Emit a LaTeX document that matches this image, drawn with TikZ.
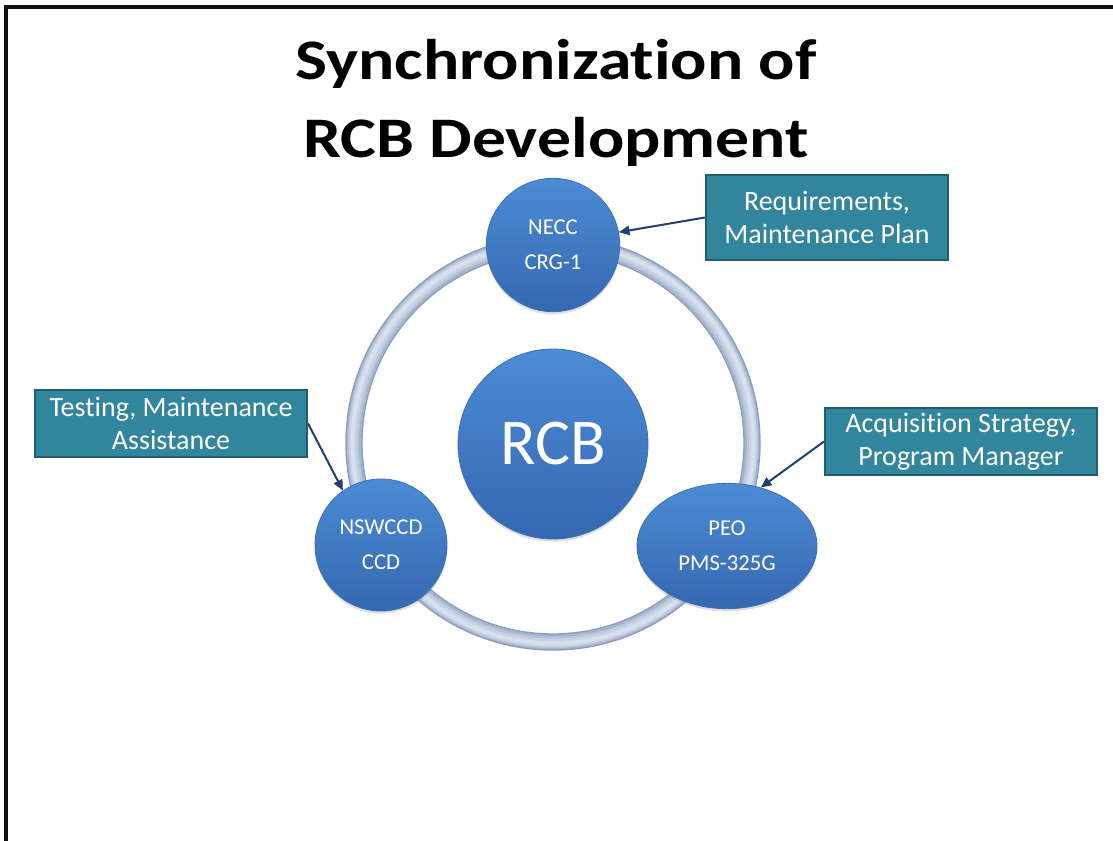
\documentclass[tikz,border=0pt]{standalone}
\usepackage{fontspec}
\setmainfont{Carlito}[Ligatures=CommonOff]
\usetikzlibrary{arrows.meta,shapes.geometric,shadows}
\definecolor{frameblack}{HTML}{111111}
\definecolor{ringdark}{HTML}{8A9DBE}
\definecolor{ringlight}{HTML}{D6E0EE}
\definecolor{bluetop}{HTML}{4D8BD5}
\definecolor{bluebot}{HTML}{3468B0}
\definecolor{blueedge}{HTML}{3A70B8}
\definecolor{boxteal}{HTML}{31859C}
\definecolor{tealedge}{HTML}{215E6E}
\definecolor{arrowblue}{HTML}{22406E}
\tikzset{
  bubble/.style={circle, inner sep=0pt, top color=bluetop, bottom color=bluebot,
    draw=blueedge, line width=0.6pt, text=white, align=center,
    font=\fontsize{17}{26}\selectfont,
    drop shadow={opacity=0.25, shadow xshift=0pt, shadow yshift=-2pt}},
  labelbox/.style={rectangle, inner sep=0pt, fill=boxteal, draw=tealedge,
    line width=1.5pt, text=white, align=center, font=\fontsize{21}{24.5}\selectfont},
  pointer/.style={draw=arrowblue, line width=1.5pt, -{Triangle[length=8pt,width=7pt]}},
  titletext/.style={anchor=base, font=\bfseries\fontsize{43}{50}\selectfont, text=black, inner sep=0pt},
  ringpart/.style={line width=#1},
}
\begin{document}
\begin{tikzpicture}[x=0.75pt,y=-0.75pt]
\useasboundingbox (0,0) rectangle (1113,841);
\fill[white] (0,0) rectangle (1113,841);
\coordinate (fa) at (1113,7);
\coordinate (fb) at (6,7);
\coordinate (fc) at (6,841);
\draw[frameblack, line width=2.5pt] (fa) -- (fb) -- (fc);

\node[titletext] (t1) at (556,80) {\scalebox{1.18}[1]{Synchronization of}};
\node[titletext] (t2) at (556,158) {\scalebox{1.18}[1]{RCB Development}};

\coordinate (rc) at (553,443);
\draw[ringdark, ringpart=13pt] (rc) circle [radius=199];
\draw[ringlight!35!ringdark, ringpart=11pt] (rc) circle [radius=199];
\draw[ringlight!60!ringdark, ringpart=8.5pt] (rc) circle [radius=199.5];
\draw[ringlight!80!ringdark, ringpart=6pt] (rc) circle [radius=200];
\draw[ringlight, ringpart=3pt] (rc) circle [radius=200.5];

\node[bubble, minimum size=142.5pt, font=\fontsize{49}{55}\selectfont] (rcb) at (553,444) {RCB};
\node[bubble, minimum size=100pt] (necc) at (553,245) {NECC\\CRG-1};
\node[bubble, minimum size=99pt] (nsw) at (381,545) {NSWCCD\\CCD};
\node[bubble, ellipse, minimum width=135pt, minimum height=94pt] (peo) at (727,546) {PEO\\PMS-325G};

\node[labelbox, minimum width=181.5pt, minimum height=63.75pt] (req) at (827,217.5) {Requirements,\\Maintenance Plan};
\node[labelbox, minimum width=204pt, minimum height=50.25pt] (test) at (171,423.5) {Testing, Maintenance\\Assistance};
\node[labelbox, minimum width=204pt, minimum height=50.25pt] (acq) at (961,441.5) {Acquisition Strategy,\\Program Manager};

\draw[pointer] (req.west) -- (necc.11);
\draw[pointer] (test.east) -- (nsw.125);
\draw[pointer] (acq.west) -- (peo.60);
\end{tikzpicture}
\end{document}
